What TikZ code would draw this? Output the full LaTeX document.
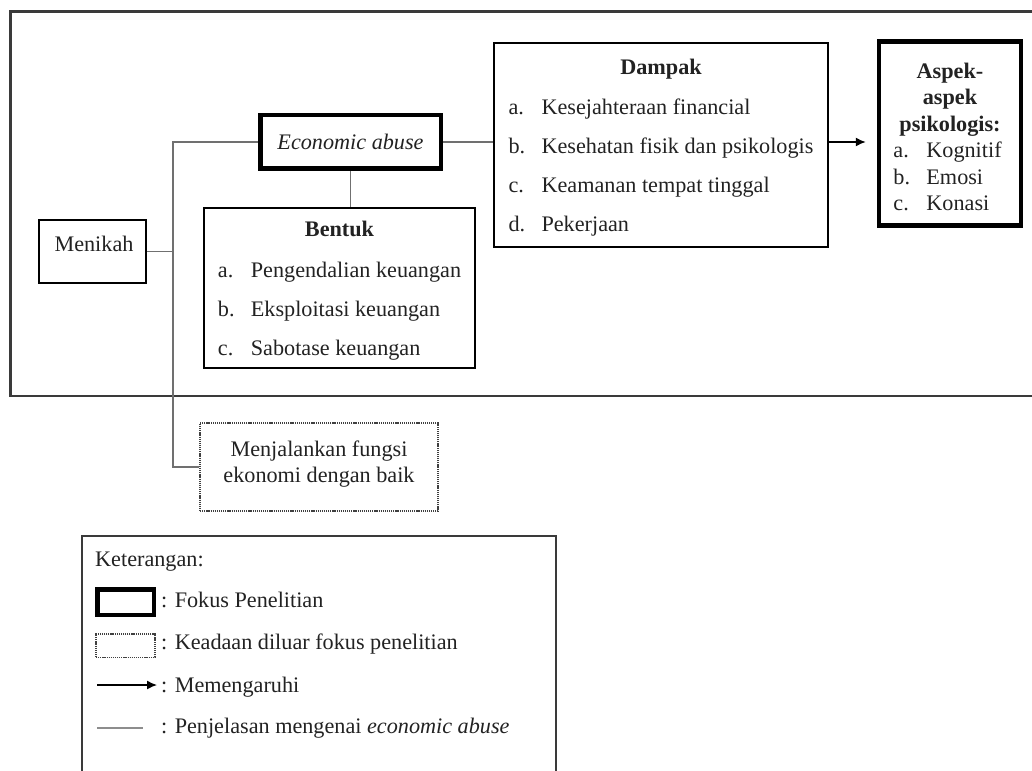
\documentclass[tikz,border=0pt]{standalone}
\usepackage{fontspec}
\setmainfont{Liberation Serif}
\usepackage{tikz}
\usetikzlibrary{positioning}
\usetikzlibrary{arrows.meta}
\usetikzlibrary{calc}

\definecolor{linegrey}{HTML}{707070}
\definecolor{framegrey}{HTML}{3A3A3A}
\definecolor{textgrey}{HTML}{222222}

% list item with hanging label
\newcommand{\itm}[2]{\makebox[33pt][l]{#1}#2}
% move box content down, keep its size
\newcommand{\shiftdown}[2]{\raisebox{-#1}[\height][\depth]{#2}}

\begin{document}
\begin{tikzpicture}[x=1pt,y=-1pt,
  font=\fontsize{22.2pt}{26pt}\selectfont, text=textgrey,
  box/.style={draw=black, line width=1.8pt, inner sep=0pt},
  focusbox/.style={draw=black, line width=4.5pt, inner sep=0pt},
  outsidebox/.style={draw=black!75, line width=1.5pt, dash pattern=on 1.2pt off 0.9pt, inner sep=0pt},
  link/.style={draw=linegrey, line width=1.4pt},
  influence/.style={draw=black, line width=1.4pt, -{Latex[length=10pt,width=9pt]}},
  legtext/.style={anchor=base west, inner sep=0pt}
]

  \clip (0,0) rectangle (1032,770);

  % outer frame (runs past the right edge)
  \draw[draw=framegrey, line width=2.5pt] (10.5,11.5) rectangle (1045,396);

  % boxes
  \node[focusbox, minimum width=180.5pt, minimum height=53.5pt] (ea) at (350.5,142)
    {\itshape Economic abuse};

  \node[box, minimum width=107pt, minimum height=63pt] (menikah) at (92.5,251.5) {};
  \node (menikahText) at (94,244) {Menikah};

  \node[box, minimum width=271pt, minimum height=160pt] (bentuk) at (339.5,288) {\shiftdown{3pt}{%
    \begin{tabular}{@{}l@{}}
      \multicolumn{1}{c}{\textbf{Bentuk}}\\[15pt]
      \itm{a.}{Pengendalian keuangan}\\[13pt]
      \itm{b.}{Eksploitasi keuangan}\\[13pt]
      \itm{c.}{Sabotase keuangan}
    \end{tabular}}};

  \node[box, minimum width=334pt, minimum height=204pt] (dampak) at (661,145) {\shiftdown{3pt}{%
    \begin{tabular}{@{}l@{}}
      \multicolumn{1}{c}{\textbf{Dampak}}\\[14pt]
      \itm{a.}{Kesejahteraan financial}\\[13pt]
      \itm{b.}{Kesehatan fisik dan psikologis}\\[13pt]
      \itm{c.}{Keamanan tempat tinggal}\\[13pt]
      \itm{d.}{Pekerjaan}
    \end{tabular}}};

  \node[focusbox, minimum width=142pt, minimum height=184pt] (aspek) at (950,133.5) {\shiftdown{6pt}{%
    \begin{tabular}{@{}l@{}}
      \multicolumn{1}{c}{\textbf{Aspek-}}\\[0.5pt]
      \multicolumn{1}{c}{\textbf{aspek}}\\[0.5pt]
      \multicolumn{1}{c}{\textbf{psikologis:}}\\[0.5pt]
      \itm{a.}{Kognitif}\\[0.5pt]
      \itm{b.}{Emosi}\\[0.5pt]
      \itm{c.}{Konasi}
    \end{tabular}}};

  \node[outsidebox, minimum width=238pt, minimum height=88pt] (fungsi) at (319,467) {};
  \node[align=center] (fungsiText) at (319,464) {Menjalankan fungsi\\ekonomi dengan baik};

  % connectors
  \coordinate (trunk) at ([xshift=26pt]menikah.east);
  \draw[link] (ea.west) -| (trunk) |- (fungsi.west);
  \draw[link] (menikah.east) -- (trunk);
  \draw[link] (ea.south) -- (ea.south |- bentuk.north);
  \draw[link] (ea.east) -- (ea.east -| dampak.west);
  \draw[influence, shorten >=11pt] (ea.east -| dampak.east) -- (ea.east -| aspek.west);

  % legend
  \draw[draw=framegrey, line width=2.2pt] (82,536) rectangle (556,800);
  \node[legtext] (legTitle) at (95,566) {Keterangan:};

  \node[focusbox, minimum width=56.5pt, minimum height=25.5pt] (legFocus) at (125.5,602) {};
  \node[legtext] (legFocusText) at (161,607) {: Fokus Penelitian};

  \node[outsidebox, minimum width=59pt, minimum height=23.5pt] (legOutside) at (125.5,645.5) {};
  \node[legtext] (legOutsideText) at (161,649) {: Keadaan diluar fokus penelitian};

  \coordinate (legArrowA) at (97,685);
  \coordinate (legArrowB) at (157,685);
  \draw[influence] (legArrowA) -- (legArrowB);
  \node[legtext] (legArrowText) at (161,692) {: Memengaruhi};

  \coordinate (legLineA) at (97,728);
  \coordinate (legLineB) at (143,728);
  \draw[link, draw=linegrey!80] (legLineA) -- (legLineB);
  \node[legtext] (legLineText) at (161,733) {: Penjelasan mengenai \textit{economic abuse}};

\end{tikzpicture}
\end{document}
